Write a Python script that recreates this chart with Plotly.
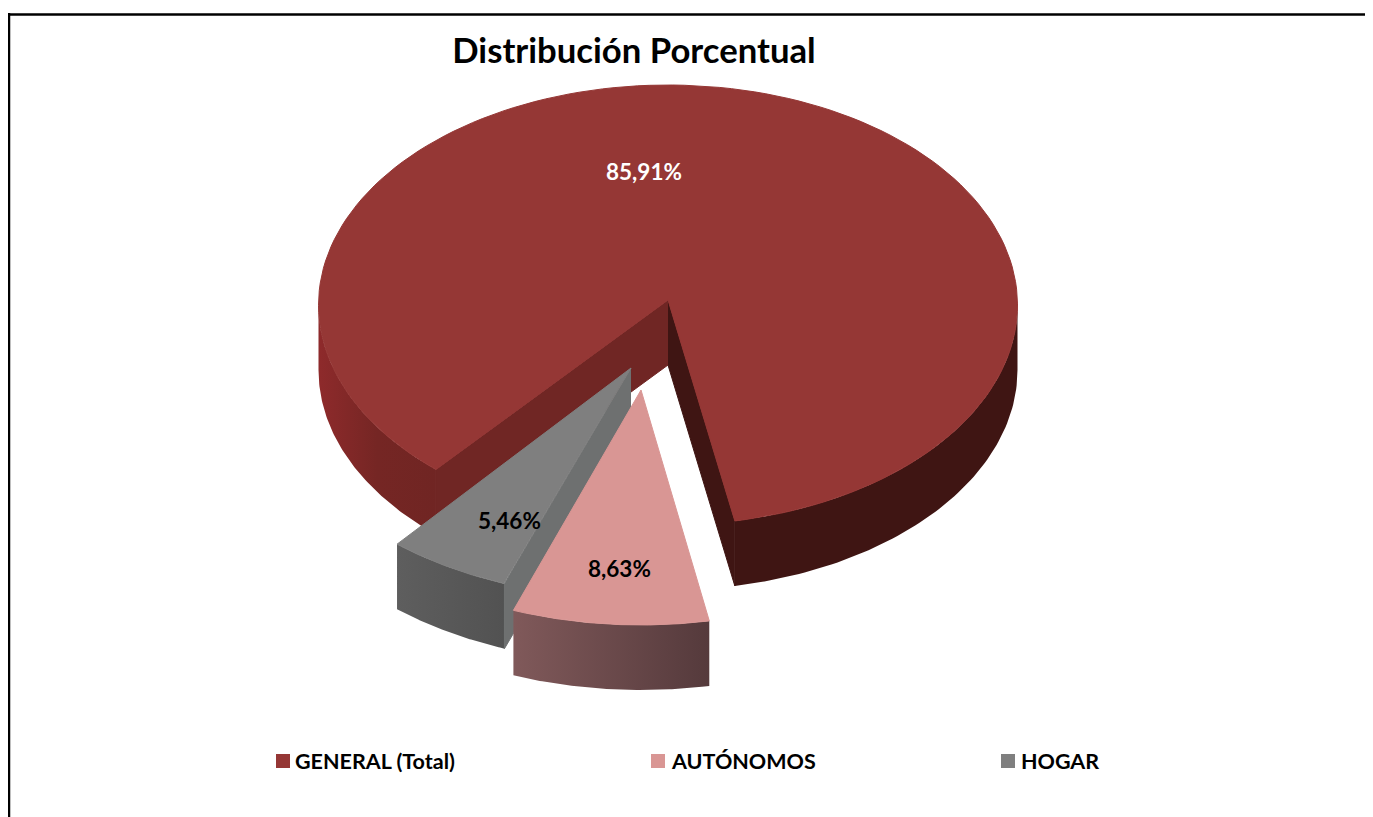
import numpy as np
import plotly.graph_objects as go

# datos
categorias = ["GENERAL (Total)", "AUTÓNOMOS", "HOGAR"]
porcentajes = [85.91, 8.63, 5.46]
titulo = "Distribución Porcentual"

# colores
col_top = ["#953735", "#d99694", "#7f7f7f"]
col_corte = ["#702624", None, "#6e7070"]
col_corte2 = "#3f1513"
grad_pared = [["#3f1513", "#3f1513"], ["#80595a", "#553a3c"], ["#5e5e5e", "#525252"]]
grad_izq = ["#8e2a2b", "#752624", "#702523"]

# vista 3d: vertice, radios, desplazamiento del arco
vertice = [(668, 300), (641, 390), (631, 368)]
radios = [(349.5, 220), (367, 235), (364, 230)]
dy_arco = [5, 0, 0]
prof = 65
inicio = 220
# la perspectiva abre un poco el hueco del sector grande
ajuste_gen = (1.6, -0.3)
FONT = "Lato"

# la pagina deja 8px de margen en body
off = 8
W, H = 1373, 817


def arco(i, t0, t1, n=80):
    t = np.radians(np.linspace(t0, t1, n))
    cx, cy = vertice[i]
    rx, ry = radios[i]
    return cx + rx * np.sin(t), cy + dy_arco[i] - ry * np.cos(t)


def poly(xs, ys, colores=None, color=None):
    if colores:
        esc = [[k / (len(colores) - 1), c] for k, c in enumerate(colores)]
        kw = dict(fillgradient=dict(type="horizontal", colorscale=esc))
        linea = dict(width=0)
    else:
        kw = dict(fillcolor=color)
        linea = dict(width=1, color=color)
    return go.Scatter(x=xs, y=ys, mode="lines", fill="toself", line=linea,
                      hoverinfo="skip", showlegend=False, **kw)


def pared(i, t0, t1, colores):
    x, y = arco(i, t0, t1)
    return poly(np.r_[x, x[::-1]], np.r_[y, y[::-1] + prof], colores=colores)


def corte(i, t, color):
    x, y = arco(i, t, t, 1)
    ax, ay = vertice[i]
    return poly([ax, x[0], x[0], ax], [ay, y[0], y[0] + prof, ay + prof], color=color)


def tapa(i, t0, t1):
    x, y = arco(i, t0, t1, 160)
    ax, ay = vertice[i]
    return poly(np.r_[ax, x, ax], np.r_[ay, y, ay], color=col_top[i])


# angulos de cada sector a partir de los valores
ang = inicio + np.r_[0, np.cumsum(porcentajes)] * 360 / sum(porcentajes)
t_gen = (ang[0] + ajuste_gen[0], ang[1] + ajuste_gen[1])
t_aut = (ang[1], ang[2])
t_hog = (ang[2], ang[3])

fig = go.Figure()

# GENERAL
fig.add_trace(pared(0, t_gen[0], 270, grad_izq))
fig.add_trace(pared(0, 90 + 360, t_gen[1], grad_pared[0]))
fig.add_trace(corte(0, t_gen[0], col_corte[0]))
fig.add_trace(corte(0, t_gen[1], col_corte2))
fig.add_trace(tapa(0, *t_gen))

# HOGAR
fig.add_trace(pared(2, t_hog[0], t_hog[1], grad_pared[2]))
fig.add_trace(corte(2, t_hog[0], col_corte[2]))
fig.add_trace(tapa(2, *t_hog))

# AUTONOMOS
fig.add_trace(pared(1, t_aut[0], t_aut[1], grad_pared[1]))
fig.add_trace(tapa(1, *t_aut))

# etiquetas de porcentaje
pos_etq = [(644, 171), (619, 568), (509, 520)]
col_etq = ["white", "black", "black"]
for i, v in enumerate(porcentajes):
    fig.add_annotation(x=pos_etq[i][0], y=pos_etq[i][1], text=f"<b>{v:.2f}%</b>".replace(".", ","),
                       showarrow=False, font=dict(family=FONT, size=22.5, color=col_etq[i]))

# leyenda
ley_x = [283, 658, 1008]
ley_txt = [293, 669, 1019]
ley_y = 761
for i, c in enumerate(categorias):
    fig.add_trace(go.Scatter(x=[ley_x[i]], y=[ley_y], mode="markers", hoverinfo="skip", showlegend=False,
                             marker=dict(symbol="square", size=14, color=col_top[i])))
    fig.add_annotation(x=ley_txt[i], y=ley_y, text=f"<b>{c}</b>", showarrow=False, xanchor="left",
                       font=dict(family=FONT, size=21.5, color="black"))

# marco
fig.add_shape(type="line", x0=9, x1=W + off, y0=14.5, y1=14.5, line=dict(color="black", width=2.5))
fig.add_shape(type="line", x0=9, x1=9, y0=13, y1=H, line=dict(color="black", width=2.5))

fig.update_layout(
    width=W, height=H - off,
    margin=dict(l=0, r=0, t=0, b=0),
    paper_bgcolor="white", plot_bgcolor="white",
    title=dict(text=f"<b>{titulo}</b>", x=(634 - off) / W, xanchor="center",
               y=1 - (51 - off) / (H - off), yanchor="middle",
               font=dict(family=FONT, size=34.7, color="black")),
    xaxis=dict(range=[off, W + off], visible=False, fixedrange=True),
    yaxis=dict(range=[H, off], visible=False, fixedrange=True),
)

fig.write_html("out.html")
